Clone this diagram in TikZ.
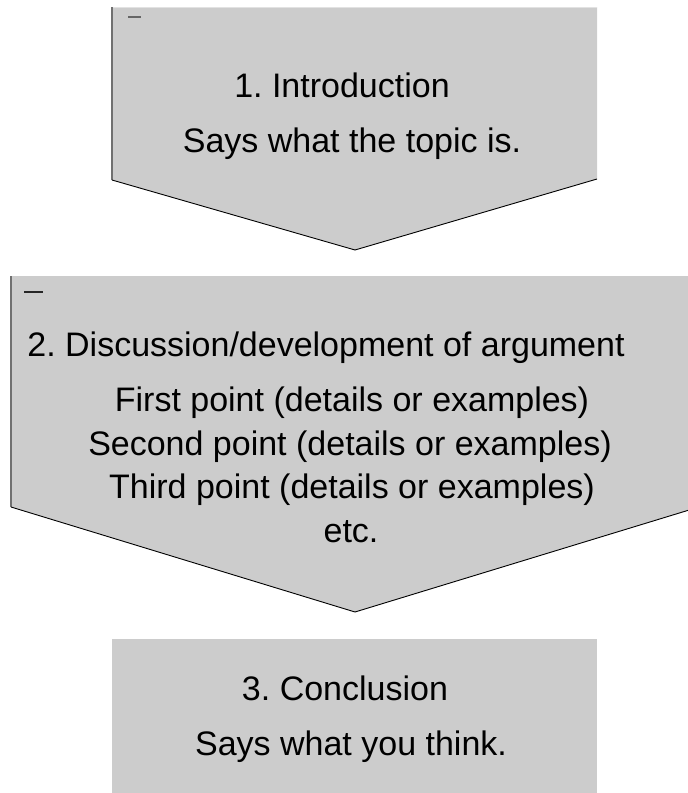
\documentclass[tikz,border=0pt]{standalone}
\usepackage{fontspec}
\setmainfont{Liberation Sans}
\frenchspacing
\begin{document}
\begin{tikzpicture}[x=1pt,y=-1pt,
  panel/.style={fill=panelgray,draw=none},
  edge/.style={draw=black,line width=0.9pt},
  sideline/.style={draw=sidegray,line width=1.3pt},
  label/.style={anchor=base,inner sep=0pt,font=\fontsize{34}{40}\selectfont}]
\definecolor{panelgray}{HTML}{CCCCCC}
\definecolor{sidegray}{HTML}{707070}
\definecolor{topgray}{HTML}{E2E2E2}
\useasboundingbox (0,0) rectangle (688,793);

% stage 1: introduction chevron
\path[panel] (112,7) -- (597,7) -- (597,179) -- (355,250) -- (112,180) -- cycle;
\draw[topgray,line width=1pt] (112,7) -- (597,7);
\draw[sideline] (112,7) -- (112,180);
\draw[edge] (112,180) -- (355,250) -- (597,179);
\draw[sidegray!90!black,line width=1.5pt] (128,17) -- (141,17);
\node[label] (intro) at (342,97) {1. Introduction};
\node[label] (introtext) at (352,152) {Says what the topic is.};

% stage 2: discussion chevron
\path[panel] (11,276) -- (699,276) -- (699,507) -- (355,612) -- (11,507) -- cycle;
\draw[sideline] (11,276) -- (11,507);
\draw[edge] (11,507) -- (355,612) -- (699,507);
\draw[black!85,line width=1.5pt] (24,292) -- (43,292);
\node[label] (disc) at (326,356) {2. Discussion/development of argument};
\node[label] (p1) at (352,411.5) {First point (details or examples)};
\node[label] (p2) at (350,455) {Second point (details or examples)};
\node[label] (p3) at (352,498.5) {Third point (details or examples)};
\node[label] (etc) at (351,542) {etc.};

% stage 3: conclusion box
\path[panel] (112,639) rectangle (597,800);
\node[label] (concl) at (345,700) {3. Conclusion};
\node[label] (concltext) at (351,755) {Says what you think.};
\end{tikzpicture}
\end{document}
